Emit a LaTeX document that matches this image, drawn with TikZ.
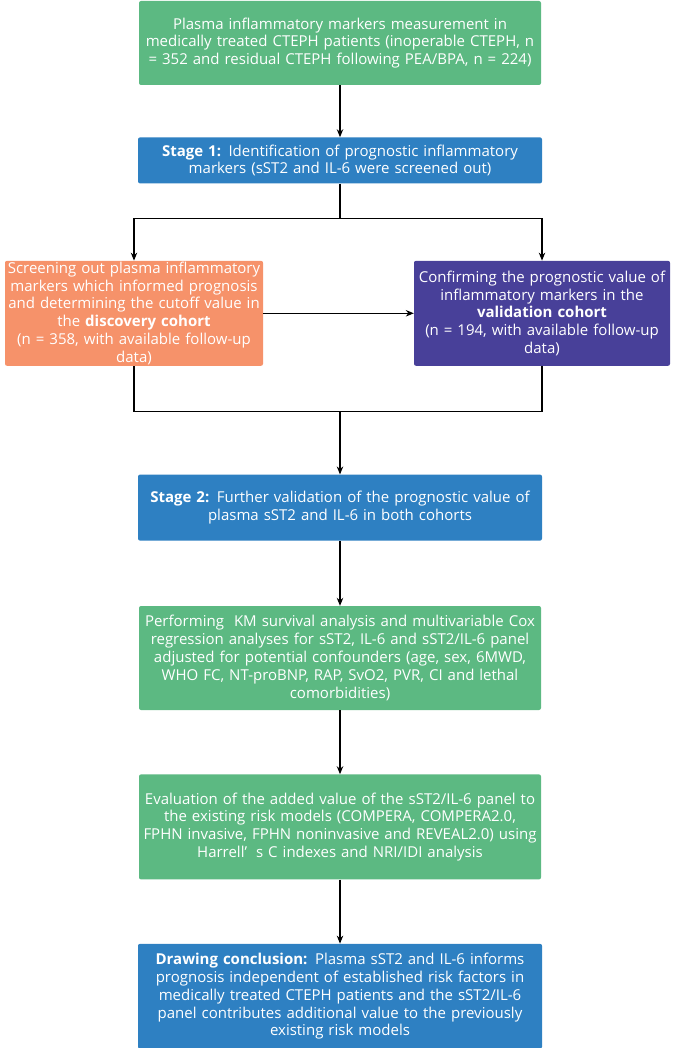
\documentclass[tikz,border=0pt]{standalone}
\usepackage{fontspec}
\setmainfont{Open Sans}
\usepackage{xcolor}
\usepackage{tikz}
\usetikzlibrary{positioning,arrows.meta}

\definecolor{flowgreen}{RGB}{92,185,130}
\definecolor{flowblue}{RGB}{46,128,194}
\definecolor{floworange}{RGB}{246,146,106}
\definecolor{flowpurple}{RGB}{72,64,153}

\begin{document}
\begin{tikzpicture}[ flowbox/.style={rectangle, rounded corners=2pt, text=white, align=center, inner xsep=1pt, inner ysep=0pt, font=\fontsize{15}{17.8}\selectfont}, greenbox/.style={flowbox, fill=flowgreen, text width=400pt}, bluebox/.style={flowbox, fill=flowblue, text width=402pt}, orangebox/.style={flowbox, fill=floworange, text width=256pt, minimum height=105pt}, purplebox/.style={flowbox, fill=flowpurple, text width=254pt, minimum height=105pt}, flowline/.style={line width=1.1pt, black}]

\useasboundingbox (0,0) rectangle (678pt,-1048pt);

%Nodes
\node[greenbox, minimum height=84pt]      (measure) at (340pt,-43pt) {Plasma inflammatory markers measurement in\\ medically treated CTEPH patients (inoperable CTEPH, n\\ = 352 and residual CTEPH following PEA/BPA, n = 224)};
\node[bluebox, minimum height=46pt]       (stageone) [below=52pt of measure] {\textbf{Stage 1:} Identification of prognostic inflammatory\\ markers (sST2 and IL-6 were screened out)};
\node[orangebox]      (discovery) [below=77pt of stageone, xshift=-206pt] {Screening out plasma inflammatory\\ markers which informed prognosis\\ and determining the cutoff value in\\ the \textbf{discovery cohort}\\ (n = 358, with available follow-up\\ data)};
\node[purplebox]      (validation) [below=77pt of stageone, xshift=202pt] {Confirming the prognostic value of\\ inflammatory markers in the\\ \textbf{validation cohort}\\ (n = 194, with available follow-up\\ data)};
\node[inner sep=0, minimum size=0, below=35pt of stageone] (split) {}; % invisible node
\node[inner sep=0, minimum size=0, below=192pt of split] (merge) {}; % invisible node
\node[bluebox, minimum height=66pt]       (stagetwo) [below=63pt of merge] {\textbf{Stage 2:} Further validation of the prognostic value of\\ plasma sST2 and IL-6 in both cohorts};
\node[greenbox, minimum height=104pt]     (coxkm) [below=65pt of stagetwo] {Performing~ KM survival analysis and multivariable Cox\\ regression analyses for sST2, IL-6 and sST2/IL-6 panel\\ adjusted for potential confounders (age, sex, 6MWD,\\ WHO FC, NT-proBNP, RAP, SvO2, PVR, CI and lethal\\ comorbidities)};
\node[greenbox, minimum height=105pt]     (addval) [below=64pt of coxkm] {Evaluation of the added value of the sST2/IL-6 panel to\\ the existing risk models (COMPERA, COMPERA2.0,\\ FPHN invasive, FPHN noninvasive and REVEAL2.0) using\\ Harrell’\hspace{0.6em}s C indexes and NRI/IDI analysis};
\node[bluebox, minimum height=105pt]      (conclusion) [below=64pt of addval] {\textbf{Drawing conclusion:} Plasma sST2 and IL-6 informs\\ prognosis independent of established risk factors in\\ medically treated CTEPH patients and the sST2/IL-6\\ panel contributes additional value to the previously\\ existing risk models};

%Lines
\draw[flowline, -{Stealth[length=8pt, width=6.5pt]}] (measure.south) -- (stageone.north);
\draw[flowline] (stageone.south) -- (split.center);
\draw[flowline, -{Stealth[length=8pt, width=6.5pt]}] (split.center) -| (discovery.north);
\draw[flowline, -{Stealth[length=8pt, width=6.5pt]}] (split.center) -| (validation.north);
\draw[flowline, -{Stealth[length=8pt, width=6.5pt]}] (discovery.east) -- (validation.west);
\draw[flowline] (discovery.south) |- (merge.center);
\draw[flowline] (validation.south) |- (merge.center);
\draw[flowline, -{Stealth[length=8pt, width=6.5pt]}] (merge.center) -- (stagetwo.north);
\draw[flowline, -{Stealth[length=8pt, width=6.5pt]}] (stagetwo.south) -- (coxkm.north);
\draw[flowline, -{Stealth[length=8pt, width=6.5pt]}] (coxkm.south) -- (addval.north);
\draw[flowline, -{Stealth[length=8pt, width=6.5pt]}] (addval.south) -- (conclusion.north);

\end{tikzpicture}
\end{document}
